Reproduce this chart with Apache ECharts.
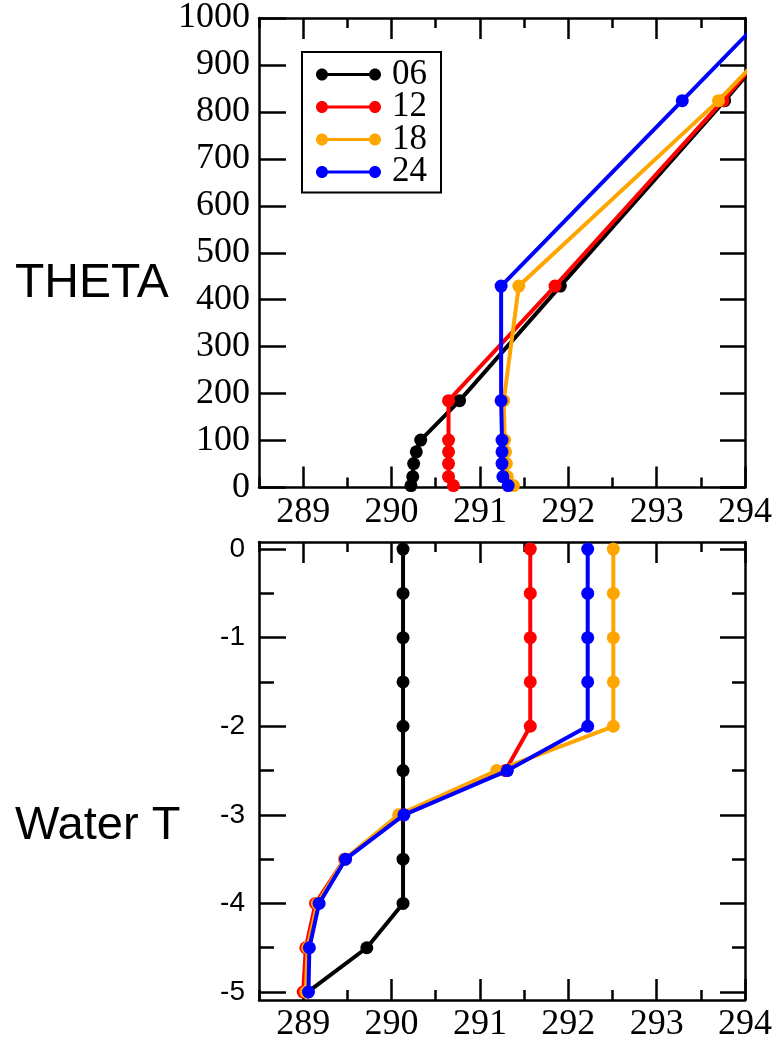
<!DOCTYPE html>
<html>
<head>
<meta charset="utf-8">
<script src="https://cdn.jsdelivr.net/npm/echarts@6/dist/echarts.min.js"></script>
<style>
  html, body { margin: 0; padding: 0; background: #fff; }
  #chart { width: 777px; height: 1043px; }
</style>
</head>
<body>
<div id="chart"></div>
<script>
// Model levels (m) for the potential temperature profiles
const thetaLevels = [4, 23, 51, 76, 101, 185, 429, 824, 1100];
const theta06 = [290.22, 290.24, 290.25, 290.28, 290.33, 290.77, 291.91, 293.77, 295.03];
const theta12 = [290.70, 290.645, 290.645, 290.645, 290.645, 290.645, 291.85, 293.75, 295.01];
const theta18 = [291.38, 291.31, 291.30, 291.29, 291.28, 291.27, 291.44, 293.70, 295.11];
const theta24 = [291.32, 291.26, 291.25, 291.25, 291.25, 291.24, 291.24, 293.29, 294.72];

// Water depths (m) for the water temperature profiles
const depths = [0, -0.5, -1, -1.5, -2, -2.5, -3, -3.5, -4, -4.5, -5];
const water06 = [290.13, 290.13, 290.13, 290.13, 290.13, 290.13, 290.13, 290.13, 290.13, 289.72, 289.05];
const water12 = [291.57, 291.57, 291.57, 291.57, 291.57, 291.29, 290.13, 289.47, 289.14, 289.03, 289.00];
const water18 = [292.51, 292.51, 292.51, 292.51, 292.51, 291.19, 290.08, 289.47, 289.16, 289.05, 289.03];
const water24 = [292.22, 292.22, 292.22, 292.22, 292.22, 291.31, 290.14, 289.48, 289.18, 289.07, 289.06];

const seriesNames = ['06', '12', '18', '24'];
const seriesColors = ['#000000', '#ff0000', '#ffa500', '#0000ff'];

// Tick labels
const tempMajor = [289, 290, 291, 292, 293, 294];
const tempMinor = [288.5, 289.5, 290.5, 291.5, 292.5, 293.5];
const thetaTicks = [0, 100, 200, 300, 400, 500, 600, 700, 800, 900, 1000];
const depthMajor = [0, -1, -2, -3, -4, -5];
const depthMinor = [-0.5, -1.5, -2.5, -3.5, -4.5];

const SERIF = "'Liberation Serif', 'Times New Roman', serif";
const SANS = "'Liberation Sans', Arial, sans-serif";
const LINE_W = 2.5;

function pairs(xs, ys) { return xs.map((x, i) => [x, ys[i]]); }

function xAx(grid, pos, ticks, len, showLine, labels) {
  return {
    type: 'value', gridIndex: grid, position: pos, min: 288.5, max: 294,
    axisLine: { show: showLine, onZero: false, lineStyle: { color: '#000', width: LINE_W } },
    axisTick: { show: true, inside: true, length: len, customValues: ticks,
                lineStyle: { color: '#000', width: LINE_W } },
    axisLabel: labels ? { show: true, customValues: ticks, margin: 7, color: '#000',
                          fontFamily: SERIF, fontSize: 36, formatter: v => String(v) } : { show: false },
    splitLine: { show: false }
  };
}

function yAx(grid, pos, min, max, ticks, len, showLine, labelCfg) {
  return {
    type: 'value', gridIndex: grid, position: pos, min: min, max: max,
    axisLine: { show: showLine, onZero: false, lineStyle: { color: '#000', width: LINE_W } },
    axisTick: { show: true, inside: true, length: len, customValues: ticks,
                lineStyle: { color: '#000', width: LINE_W } },
    axisLabel: labelCfg ? Object.assign({ show: true, customValues: ticks, color: '#000',
                                          formatter: v => String(v) }, labelCfg)
                        : { show: false },
    splitLine: { show: false }
  };
}

const xAxes = [
  // upper panel
  xAx(0, 'bottom', tempMajor, 21, true, true),
  xAx(0, 'bottom', tempMinor, 10, false, false),
  xAx(0, 'top', tempMajor, 21, true, false),
  xAx(0, 'top', tempMinor, 10, false, false),
  // lower panel
  xAx(1, 'bottom', tempMajor, 21, true, true),
  xAx(1, 'bottom', tempMinor, 10, false, false),
  xAx(1, 'top', tempMajor, 21, true, false),
  xAx(1, 'top', tempMinor, 10, false, false)
];

const yAxes = [
  yAx(0, 'left', 0, 1000, thetaTicks, 27, true, { margin: 9, fontFamily: SERIF, fontSize: 36 }),
  yAx(0, 'right', 0, 1000, thetaTicks, 25, true, null),
  yAx(1, 'left', -5.09, 0.08, depthMajor, 27, true, { margin: 14, fontFamily: SANS, fontSize: 28 }),
  yAx(1, 'left', -5.09, 0.08, depthMinor, 15, false, null),
  yAx(1, 'right', -5.09, 0.08, depthMajor, 25, true, null),
  yAx(1, 'right', -5.09, 0.08, depthMinor, 13, false, null)
];

const thetaData = [theta06, theta12, theta18, theta24];
const waterData = [water06, water12, water18, water24];

const series = [];
seriesNames.forEach((name, i) => {
  series.push({
    name: name, type: 'line', xAxisIndex: 0, yAxisIndex: 0,
    data: pairs(thetaData[i], thetaLevels),
    symbol: 'circle', symbolSize: 13, clip: true,
    lineStyle: { color: seriesColors[i], width: 4 },
    itemStyle: { color: seriesColors[i] },
    z: 2 + i
  });
});
seriesNames.forEach((name, i) => {
  series.push({
    name: name, type: 'line', xAxisIndex: 4, yAxisIndex: 2,
    data: pairs(waterData[i], depths),
    symbol: 'circle', symbolSize: 13, clip: true,
    lineStyle: { color: seriesColors[i], width: 4 },
    itemStyle: { color: seriesColors[i] },
    z: 2 + i
  });
});

// legend glyph: short line with a filled dot at each end (all sub-paths clockwise)
function dot(cx, cy, r) {
  const k = 0.5523 * r;
  return `M${cx - r},${cy} C${cx - r},${cy - k} ${cx - k},${cy - r} ${cx},${cy - r} ` +
         `C${cx + k},${cy - r} ${cx + r},${cy - k} ${cx + r},${cy} ` +
         `C${cx + r},${cy + k} ${cx + k},${cy + r} ${cx},${cy + r} ` +
         `C${cx - k},${cy + r} ${cx - r},${cy + k} ${cx - r},${cy} Z`;
}
const legendIcon = 'path://' + dot(6, 6, 6) + ' ' + dot(59, 6, 6) + ' M6,4.5 H59 V7.5 H6 Z';

const chart = echarts.init(document.getElementById('chart'), null, { renderer: 'canvas' });
chart.setOption({
  animation: false,
  backgroundColor: '#ffffff',
  grid: [
    { left: 259, top: 18, right: 32, height: 469.5 },
    { left: 259, top: 542, right: 32, height: 464 }
  ],
  xAxis: xAxes,
  yAxis: yAxes,
  legend: {
    data: seriesNames,
    orient: 'vertical',
    left: 302, top: 52,
    padding: [5, 14, 3, 14],
    itemGap: -2.5,
    itemWidth: 65, itemHeight: 12,
    icon: legendIcon,
    itemStyle: { borderWidth: 0 },
    borderColor: '#000', borderWidth: 2, backgroundColor: '#fff',
    selectedMode: false,
    textStyle: { fontFamily: SERIF, fontSize: 35, lineHeight: 32, color: '#000', padding: [0, 0, 0, 6] }
  },
  graphic: [
    { type: 'text', x: 15, y: 284, style: { text: 'THETA', font: '48px ' + SANS, fill: '#000', verticalAlign: 'middle' } },
    { type: 'text', x: 15, y: 826, style: { text: 'Water T', font: '47px ' + SANS, fill: '#000', verticalAlign: 'middle' } }
  ],
  series: series
});
</script>
</body>
</html>
